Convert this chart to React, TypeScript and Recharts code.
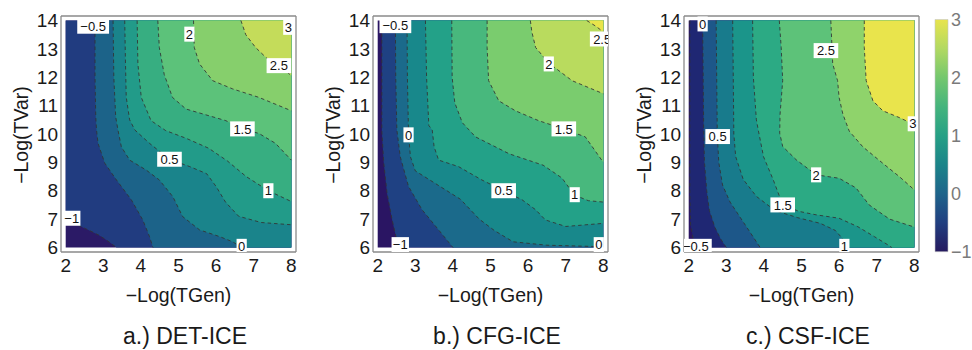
import React from "react";
import { ComposedChart, Area, Line, Scatter, Bar, XAxis, YAxis, ReferenceArea } from "recharts";

type Pt = [number, number];
type Lbl = { x: number; y: number; t: string };

const FONT = '"Liberation Sans", Arial, sans-serif';

const xTicks = [2, 3, 4, 5, 6, 7, 8];
const yTicks = [6, 7, 8, 9, 10, 11, 12, 13, 14];
const barTicks = [-1, 0, 1, 2, 3];
const barRange = [{ name: "scale", range: [-1, 3] }];

// a.) DET-ICE — contour levels -1 .. 3, each traced edge to edge
const contoursA: Pt[][] = [
  [[2, 6.9], [2.3, 6.8], [2.6, 6.62], [2.9, 6.42], [3.15, 6.2], [3.35, 6.0]],
  [[2.78, 14], [2.78, 12], [2.8, 10.6], [2.82, 10.14], [2.86, 9.67], [3.04, 8.97], [3.35, 8.38], [3.75, 7.67], [4.05, 6.97], [4.23, 6.38], [4.32, 6.0]],
  [[3.26, 14], [3.28, 12], [3.33, 10.6], [3.39, 10.14], [3.48, 9.55], [3.7, 9.08], [4.14, 8.73], [4.49, 8.38], [4.85, 7.79], [5.11, 7.09], [5.56, 6.62], [6.1, 6.38], [6.44, 6.2], [6.68, 6.0]],
  [[3.57, 14], [3.59, 12.5], [3.61, 11.3], [3.7, 10.5], [3.84, 10.14], [4.23, 9.67], [4.76, 9.11], [5.3, 8.85], [5.75, 8.6], [6.0, 8.15], [6.25, 7.6], [6.6, 7.1], [7.2, 6.88], [8, 6.8]],
  [[3.9, 14], [3.92, 12.47], [4.01, 11.29], [4.27, 10.47], [4.66, 10.12], [5.2, 9.85], [5.8, 9.5], [6.3, 9.05], [6.8, 8.5], [7.39, 8.0], [8, 7.62]],
  [[4.45, 14], [4.49, 13.05], [4.62, 12.1], [4.84, 11.29], [5.2, 10.88], [5.82, 10.64], [6.26, 10.47], [6.7, 10.18], [7.14, 10.02], [7.58, 9.67], [8, 9.08]],
  [[5.4, 14], [5.42, 13.05], [5.56, 12.47], [5.91, 11.88], [6.44, 11.59], [7.14, 11.29], [8, 10.82]],
  [[6.66, 14], [6.79, 13.5], [7.05, 13.05], [7.41, 12.59], [7.67, 12.41], [8, 12.06]],
  [[7.85, 14], [7.93, 13.8], [8, 13.6]],
];
const colorsA = ["#2b1a66", "#213c80", "#1c6389", "#1a848b", "#229b89", "#37ae81", "#5cc27a", "#86cf6c", "#c4dc5a", "#e6e34c"];
const labelsA: Lbl[] = [
  { x: 2.73, y: 13.8, t: "−0.5" },
  { x: 5.29, y: 13.52, t: "2" },
  { x: 7.92, y: 13.76, t: "3" },
  { x: 7.67, y: 12.41, t: "2.5" },
  { x: 6.7, y: 10.18, t: "1.5" },
  { x: 4.76, y: 9.11, t: "0.5" },
  { x: 7.39, y: 8.0, t: "1" },
  { x: 2.16, y: 7.03, t: "−1" },
  { x: 6.68, y: 6.04, t: "0" },
];

// b.) CFG-ICE — contour levels -1 .. 2.5
const contoursB: Pt[][] = [
  [[2.11, 14], [2.11, 10.1], [2.16, 9.0], [2.25, 7.9], [2.38, 7.0], [2.5, 6.3], [2.57, 6.0]],
  [[2.47, 14], [2.48, 12], [2.51, 10.14], [2.6, 9.2], [2.82, 8.15], [3.18, 7.33], [3.62, 6.62], [4.0, 6.0]],
  [[2.78, 14], [2.79, 12], [2.82, 10], [2.87, 9.2], [3.0, 8.7], [3.6, 8.2], [4.2, 7.7], [4.7, 7.0], [5.1, 6.6], [5.6, 6.2], [6.5, 6.08], [7.9, 6.03], [8, 6.02]],
  [[3.27, 14], [3.3, 12], [3.36, 10.3], [3.45, 10.14], [3.5, 9.55], [3.62, 9.08], [4.15, 8.85], [4.77, 8.38], [5.35, 8.0], [5.84, 7.68], [6.2, 7.33], [6.46, 6.97], [7.0, 6.74], [8, 6.85]],
  [[3.97, 14], [3.98, 12], [4.05, 11.1], [4.25, 10.4], [4.6, 9.9], [5.5, 9.3], [6.4, 8.9], [6.9, 8.45], [7.23, 7.85], [7.6, 7.65], [8, 7.6]],
  [[4.91, 14], [4.91, 13.05], [4.95, 11.88], [5.22, 11.17], [5.66, 10.82], [6.28, 10.47], [6.94, 10.18], [7.52, 9.9], [8, 9.0]],
  [[6.06, 14], [6.1, 13.6], [6.2, 13.05], [6.55, 12.5], [7.17, 11.88], [8, 11.42]],
  [[7.56, 14], [7.8, 13.8], [8, 13.6]],
];
const colorsB = ["#2a1563", "#1f4183", "#1b6a8b", "#18888b", "#23a188", "#48b87d", "#7acc6e", "#b9db5e", "#e9e44b"];
const labelsB: Lbl[] = [
  { x: 2.47, y: 13.82, t: "−0.5" },
  { x: 7.97, y: 13.35, t: "2.5" },
  { x: 6.55, y: 12.47, t: "2" },
  { x: 6.95, y: 10.18, t: "1.5" },
  { x: 2.82, y: 9.97, t: "0" },
  { x: 5.35, y: 8.0, t: "0.5" },
  { x: 7.24, y: 7.86, t: "1" },
  { x: 2.6, y: 6.1, t: "−1" },
  { x: 7.88, y: 6.1, t: "0" },
];

// c.) CSF-ICE — contour levels -0.5 .. 3
const contoursC: Pt[][] = [
  [[2.03, 14], [2.03, 8], [2.05, 6.8], [2.12, 6.3], [2.2, 6.0]],
  [[2.37, 14], [2.4, 10], [2.42, 9], [2.48, 8], [2.55, 7.3], [2.7, 6.7], [2.85, 6.3], [3.0, 6.0]],
  [[2.73, 14], [2.76, 10], [2.8, 9], [2.9, 8.2], [3.1, 7.6], [3.45, 6.9], [3.7, 6.4], [3.9, 6.0]],
  [[3.17, 14], [3.2, 10], [3.25, 9.2], [3.45, 8.4], [3.8, 7.8], [4.3, 7.3], [4.9, 7.05], [5.5, 6.85], [5.9, 6.6], [6.1, 6.3], [6.15, 6.0]],
  [[3.7, 14], [3.72, 12], [3.8, 10.5], [3.85, 10.14], [3.99, 9.2], [4.25, 8.38], [4.5, 7.5], [4.94, 7.27], [5.39, 7.15], [6.0, 7.03], [6.5, 6.73], [6.94, 6.38], [7.3, 6.09], [7.4, 6.0]],
  [[4.41, 14], [4.46, 13.05], [4.5, 11.88], [4.43, 10.7], [4.42, 10.03], [4.5, 9.56], [4.86, 9.09], [5.39, 8.56], [6.0, 8.44], [6.45, 8.1], [6.8, 7.5], [7.34, 7.0], [8, 6.72]],
  [[5.78, 14], [5.83, 12.47], [5.96, 11.88], [6.0, 11.29], [6.1, 10.7], [6.27, 10.1], [6.63, 9.55], [7.16, 8.97], [7.6, 8.5], [8, 8.03]],
  [[6.67, 14], [6.67, 13.05], [6.72, 11.88], [6.9, 11.17], [7.16, 10.82], [7.6, 10.58], [8, 10.33]],
];
const colorsC = ["#2b1464", "#1f2773", "#1d5789", "#187b8c", "#1b958a", "#2caa84", "#5dc279", "#8fd36b", "#e9e44c"];
const labelsC: Lbl[] = [
  { x: 2.37, y: 13.88, t: "0" },
  { x: 5.65, y: 12.94, t: "2.5" },
  { x: 7.96, y: 10.36, t: "3" },
  { x: 2.77, y: 9.91, t: "0.5" },
  { x: 5.39, y: 8.56, t: "2" },
  { x: 4.5, y: 7.5, t: "1.5" },
  { x: 6.14, y: 6.04, t: "1" },
  { x: 2.19, y: 6.04, t: "−0.5" },
];

const barStops = [
  { o: "0%", c: "#e8e44c" },
  { o: "12.5%", c: "#b2d962" },
  { o: "25%", c: "#74c76e" },
  { o: "37.5%", c: "#45b47d" },
  { o: "50%", c: "#26a085" },
  { o: "62.5%", c: "#1b8489" },
  { o: "75%", c: "#1e648b" },
  { o: "87.5%", c: "#213f80" },
  { o: "100%", c: "#261a5f" },
];

const toLine = (c: Pt[]) => c.map(([x, y]) => ({ x, y }));
// pad along the top / bottom edge so the fill runs from the contour up to y = 14
const toArea = (c: Pt[]) => {
  const pts = toLine(c);
  if (pts[0].y >= 14 && pts[0].x > 2) pts.unshift({ x: 2, y: 14 });
  const last = pts[pts.length - 1];
  if (last.y <= 6 && last.x < 8) pts.push({ x: 8, y: 6 });
  return pts;
};

const minusFmt = (v: number) => (v < 0 ? `−${-v}` : `${v}`);

const LabelBox = (props: any) => {
  const { cx, cy, payload } = props;
  const w = payload.t.length * 7.2 + 3;
  return (
    <g>
      <rect x={cx - w / 2} y={cy - 7.5} width={w} height={15} fill="#fff" />
      <text x={cx} y={cy} dy="0.36em" textAnchor="middle" fontSize={13} fontFamily={FONT} fill="#111">
        {payload.t}
      </text>
    </g>
  );
};

const frame = { stroke: "#8a8a8a", strokeWidth: 1.3 };
const tickStyle = { fill: "#1a1a1a", fontSize: 19, fontFamily: FONT };

const Panel = ({ left, contours, colors, labels, id }: { left: number; contours: Pt[][]; colors: string[]; labels: Lbl[]; id: string }) => (
  <div style={{ position: "absolute", left, top: 0 }}>
    <ComposedChart width={310} height={300} margin={{ top: 15, right: 13, bottom: 18, left: 21 }}>
      <XAxis dataKey="x" type="number" domain={[1.875, 8.125]} ticks={xTicks} allowDataOverflow height={30}
        tickSize={0} tickMargin={7} axisLine={frame} tick={tickStyle} />
      <XAxis xAxisId="top" orientation="top" dataKey="x" type="number" domain={[1.875, 8.125]} allowDataOverflow height={1}
        tick={false} tickLine={false} axisLine={frame} />
      <YAxis dataKey="y" type="number" domain={[5.84, 14.16]} ticks={yTicks} allowDataOverflow width={40}
        tickSize={0} tickMargin={3} axisLine={frame} tick={tickStyle} />
      <YAxis yAxisId="right" orientation="right" type="number" domain={[5.84, 14.16]} allowDataOverflow width={1}
        tick={false} tickLine={false} axisLine={frame} />
      <ReferenceArea x1={2} x2={8} y1={6} y2={14} fill={colors[0]} fillOpacity={1} stroke="none" />
      {contours.map((c, i) => (
        <Area key={`${id}a${i}`} data={toArea(c)} dataKey="y" type="linear" baseValue={14}
          fill={colors[i + 1]} fillOpacity={1} stroke="none" dot={false} activeDot={false} isAnimationActive={false} />
      ))}
      {contours.map((c, i) => (
        <Line key={`${id}l${i}`} data={toLine(c)} dataKey="y" type="linear" stroke="#333" strokeOpacity={0.85}
          strokeWidth={1} strokeDasharray="3.5 3" dot={false} activeDot={false} isAnimationActive={false} />
      ))}
      <Scatter data={labels} dataKey="y" shape={LabelBox} isAnimationActive={false} />
    </ComposedChart>
  </div>
);

const titleStyle: React.CSSProperties = {
  position: "absolute",
  fontFamily: FONT,
  fontSize: 19.5,
  color: "#1a1a1a",
  whiteSpace: "nowrap",
  lineHeight: 1,
  transform: "translate(-50%, -50%)",
};

const captionStyle: React.CSSProperties = {
  position: "absolute",
  fontFamily: FONT,
  fontSize: 23,
  color: "#1a1a1a",
  whiteSpace: "nowrap",
  lineHeight: 1,
  transform: "translate(-50%, -50%)",
};

const panels = [
  { left: 0, contours: contoursA, colors: colorsA, labels: labelsA, caption: "a.) DET-ICE", id: "a" },
  { left: 312, contours: contoursB, colors: colorsB, labels: labelsB, caption: "b.) CFG-ICE", id: "b" },
  { left: 623, contours: contoursC, colors: colorsC, labels: labelsC, caption: "c.) CSF-ICE", id: "c" },
];

export default function App() {
  return (
    <div style={{ position: "absolute", left: 0, top: 0, width: 972, height: 350, background: "#fff", overflow: "hidden" }}>
      {panels.map((p) => (
        <React.Fragment key={p.id}>
          <Panel left={p.left} contours={p.contours} colors={p.colors} labels={p.labels} id={p.id} />
          <div style={{ ...titleStyle, left: p.left + 178.5, top: 296 }}>−Log(TGen)</div>
          <div style={{ ...titleStyle, left: p.left + 22, top: 135, transform: "translate(-50%, -50%) rotate(-90deg)" }}>−Log(TVar)</div>
          <div style={{ ...captionStyle, left: p.left + 185, top: 336 }}>{p.caption}</div>
        </React.Fragment>
      ))}
      <div style={{ position: "absolute", left: 922, top: 0 }}>
        <ComposedChart width={50} height={300} data={barRange} barCategoryGap={0}
          margin={{ top: 19.5, right: 0, bottom: 48.3, left: 13 }}>
          <defs>
            <linearGradient id="cbGrad" x1="0" y1="0" x2="0" y2="1">
              {barStops.map((s) => (
                <stop key={s.o} offset={s.o} stopColor={s.c} />
              ))}
            </linearGradient>
          </defs>
          <XAxis dataKey="name" hide />
          <YAxis orientation="right" type="number" domain={[-1, 3]} ticks={barTicks} width={24}
            axisLine={false} tickLine={false} tickSize={0} tickMargin={3} tickFormatter={minusFmt}
            tick={{ fill: "#7a7a7a", fontSize: 18, fontFamily: FONT }} />
          <Bar dataKey="range" fill="url(#cbGrad)" stroke="#c8c8c8" strokeWidth={0.6} isAnimationActive={false} />
        </ComposedChart>
      </div>
    </div>
  );
}
